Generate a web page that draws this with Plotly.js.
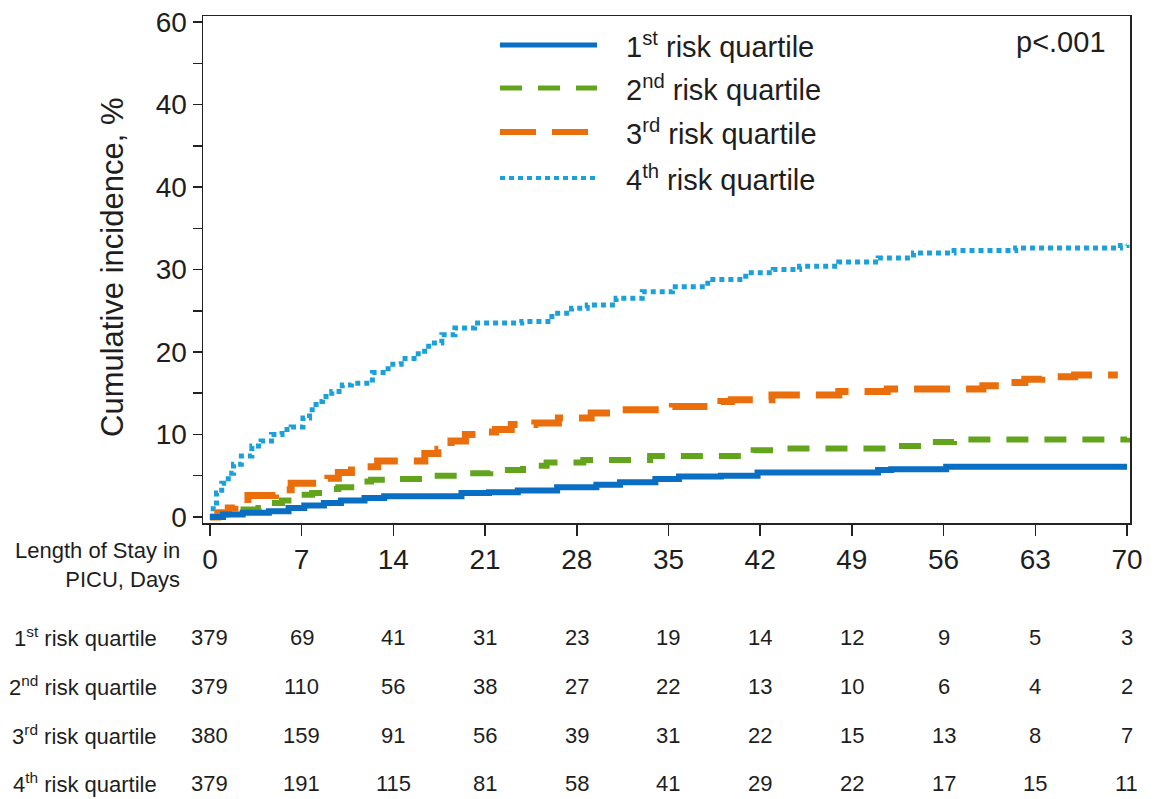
<!DOCTYPE html>
<html>
<head>
<meta charset="utf-8">
<script src="https://cdn.plot.ly/plotly-3.0.1.min.js"></script>
<style>html,body{margin:0;padding:0;background:#fff;}#chart{width:1155px;height:799px;}</style>
</head>
<body>
<div id="chart"></div>
<script>
// ---- data ----
const seriesNames = ["1<sup>st</sup> risk quartile", "2<sup>nd</sup> risk quartile", "3<sup>rd</sup> risk quartile", "4<sup>th</sup> risk quartile"];

const q1Days = [0, 1, 2.5, 4.5, 6, 7.2, 8.7, 10, 11.8, 13.3, 19.2, 21.3, 23.5, 26.5, 29.5, 31.3, 34, 35.8, 39, 41.8, 51, 52, 56.2, 70];
const q1Inc  = [0, 0.3, 0.5, 0.7, 1.1, 1.4, 1.7, 2.0, 2.3, 2.5, 2.9, 3.0, 3.2, 3.6, 3.9, 4.2, 4.6, 4.9, 5.0, 5.4, 5.7, 5.8, 6.1, 6.1];

const q2Days = [0, 1, 2.3, 3.7, 4.6, 5.5, 6.5, 7.8, 9, 9.8, 11.2, 12.3, 13.9, 16.3, 19.4, 21.4, 23.9, 25.7, 28.5, 33.6, 41.5, 43.8, 51.7, 54.8, 56.8, 70];
const q2Inc  = [0, 0.3, 0.9, 1.1, 1.7, 2.0, 2.7, 2.9, 3.4, 3.6, 4.3, 4.5, 4.6, 5.0, 5.3, 5.7, 6.2, 6.6, 6.9, 7.4, 8.1, 8.3, 8.6, 9.1, 9.4, 9.6];

const q3Days = [0, 0.6, 1.4, 1.9, 2.9, 5, 6.2, 9, 9.8, 10.8, 11.6, 12.8, 16.4, 17.4, 18.4, 19.5, 20.5, 21.8, 23, 24.8, 26.6, 29.1, 31, 35.3, 39, 39.8, 42.9, 48, 51.7, 59, 60.8, 62.2, 63.5, 66, 69.3];
const q3Inc  = [0, 0.5, 1.1, 1.6, 2.6, 3.3, 4.1, 4.7, 5.4, 5.7, 6.1, 6.8, 7.7, 8.2, 9.2, 10.0, 10.3, 10.6, 11.2, 11.4, 12.0, 12.6, 13.0, 13.4, 14.0, 14.2, 14.8, 15.2, 15.5, 15.9, 16.3, 16.7, 17.0, 17.2, 17.2];

const q4Days = [0, 0.25, 0.5, 0.9, 1.4, 1.8, 2.4, 3.2, 3.9, 4.7, 5.5, 6.2, 7.1, 7.6, 8.1, 8.6, 9.3, 10.1, 10.8, 12.4, 13.6, 14.6, 15.9, 16.7, 17.7, 18.7, 20.2, 23.8, 26.1, 27.6, 28.8, 31, 33, 35.3, 38, 40.9, 43, 45, 48, 51, 53.7, 56.8, 61.5, 69.5, 70];
const q4Inc  = [0, 1.7, 2.9, 4.1, 5.3, 6.4, 7.4, 8.6, 9.2, 10.0, 10.6, 10.9, 12.0, 13.0, 14.0, 14.6, 15.2, 16.0, 16.2, 17.5, 18.5, 19.2, 20.1, 21.1, 22.1, 22.9, 23.5, 23.7, 24.7, 25.3, 25.7, 26.5, 27.3, 27.9, 28.8, 29.6, 30.0, 30.4, 30.9, 31.4, 32.0, 32.3, 32.6, 32.9, 33.0];

const riskDays = [0, 7, 14, 21, 28, 35, 42, 49, 56, 63, 70];
const atRisk1 = [379, 69, 41, 31, 23, 19, 14, 12, 9, 5, 3];
const atRisk2 = [379, 110, 56, 38, 27, 22, 13, 10, 6, 4, 2];
const atRisk3 = [380, 159, 91, 56, 39, 31, 22, 15, 13, 8, 7];
const atRisk4 = [379, 191, 115, 81, 58, 41, 29, 22, 17, 15, 11];

const yTickVals = [0, 10, 20, 30, 40, 50, 60];
const yTickText = ["0", "10", "20", "30", "40", "40", "60"];
const yMinorVals = [5, 15, 25, 35, 45, 55];

// ---- styles ----
const colors = ["#0a6fc2", "#62a51c", "#ea6f0c", "#1ba0da"];
const dashes = ["solid", "22px,16px", "36px,16px", "5px,4px"];
const widths = [6, 6, 7, 5];

const dayArrays = [q1Days, q2Days, q3Days, q4Days];
const incArrays = [q1Inc, q2Inc, q3Inc, q4Inc];
const riskArrays = [atRisk1, atRisk2, atRisk3, atRisk4];

const FONT = "Liberation Sans, Arial, sans-serif";
const TXT = "#1e1e1e";

const traces = dayArrays.map((d, i) => ({
  x: d, y: incArrays[i], type: "scatter", mode: "lines",
  line: {shape: "hv", color: colors[i], width: widths[i], dash: dashes[i]},
  showlegend: false, hoverinfo: "skip"
}));
const ordered = [traces[3], traces[2], traces[1], traces[0]];

// plot-area geometry helpers (paper coords)
const W = 1155, H = 799, ML = 203, MR = 25, MT = 16, MB = 276;
const PW = W - ML - MR, PH = H - MT - MB;
const px = v => (v - ML) / PW;
const py = v => (H - MB - v) / PH;

const annotations = [];
const shapes = [];

// y axis title
annotations.push({xref: "paper", yref: "paper", x: px(112), y: py(268), text: "Cumulative incidence, %",
  textangle: -90, showarrow: false, font: {family: FONT, size: 31, color: TXT}, xanchor: "center", yanchor: "middle"});

// x axis label (left of ticks)
annotations.push({xref: "paper", yref: "paper", x: px(182), y: py(565), text: "Length of Stay in<br>PICU, Days",
  showarrow: false, align: "right", xanchor: "right", yanchor: "middle", font: {family: FONT, size: 22, color: TXT}});

// p value
annotations.push({xref: "paper", yref: "paper", x: px(1108), y: py(42), text: "p<.001", showarrow: false,
  xanchor: "right", yanchor: "middle", font: {family: FONT, size: 29, color: TXT}});

// legend
const legY = [45, 88, 132, 178];
seriesNames.forEach((name, i) => {
  shapes.push({type: "line", xref: "paper", yref: "paper", x0: px(500), x1: px(597), y0: py(legY[i]), y1: py(legY[i]),
    line: {color: colors[i], width: widths[i] - 1, dash: dashes[i]}});
  annotations.push({xref: "paper", yref: "paper", x: px(624), y: py(legY[i]), text: name, showarrow: false,
    xanchor: "left", yanchor: "middle", font: {family: FONT, size: 29, color: TXT}});
});

// risk table
const rowY = [637, 686, 735, 783];
riskArrays.forEach((arr, i) => {
  annotations.push({xref: "paper", yref: "paper", x: px(159), y: py(rowY[i]), text: seriesNames[i], showarrow: false,
    xanchor: "right", yanchor: "middle", font: {family: FONT, size: 22, color: TXT}});
  arr.forEach((n, j) => {
    annotations.push({xref: "x", yref: "paper", x: riskDays[j], y: py(rowY[i]), text: String(n), showarrow: false,
      xanchor: "center", yanchor: "middle", font: {family: FONT, size: 22, color: TXT}});
  });
});

const layout = {
  width: W, height: H,
  margin: {l: ML, r: MR, t: MT, b: MB, pad: 0},
  paper_bgcolor: "#fff", plot_bgcolor: "#fff",
  font: {family: FONT, size: 28, color: TXT},
  xaxis: {
    range: [-0.53, 70.23], tickmode: "array", tickvals: riskDays, ticktext: riskDays.map(String),
    ticks: "outside", ticklen: 11, tickwidth: 1.5, tickcolor: "#222",
    showline: true, linecolor: "#222", linewidth: 1.5, mirror: true,
    showgrid: false, zeroline: false, tickfont: {family: FONT, size: 28, color: TXT}
  },
  yaxis: {
    range: [-0.73, 60.73], tickmode: "array", tickvals: yTickVals, ticktext: yTickText,
    ticks: "outside", ticklen: 9, tickwidth: 1.5, tickcolor: "#222",
    minor: {tickmode: "array", tickvals: yMinorVals, ticks: "outside", ticklen: 9, tickwidth: 1.5, tickcolor: "#222", showgrid: false},
    showline: true, linecolor: "#222", linewidth: 1.5, mirror: true,
    showgrid: false, zeroline: false, tickfont: {family: FONT, size: 28, color: TXT}
  },
  annotations: annotations,
  shapes: shapes,
  showlegend: false
};

Plotly.newPlot("chart", ordered, layout, {displayModeBar: false, staticPlot: true});
</script>
</body>
</html>
